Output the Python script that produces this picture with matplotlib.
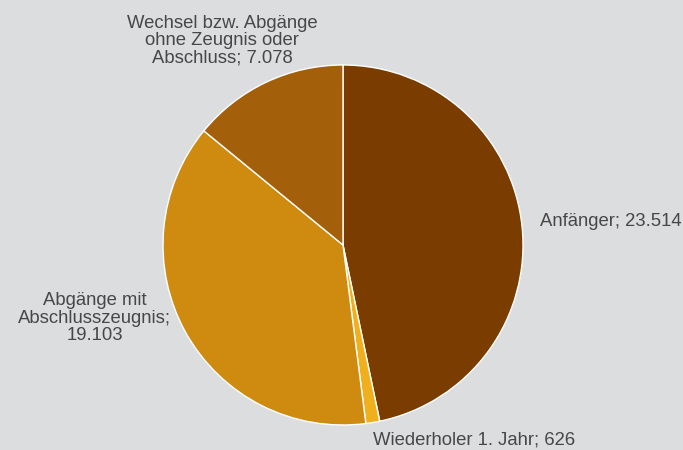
import matplotlib.pyplot as plt

labels = ["Anfänger; 23.514", "Wiederholer 1. Jahr; 626",
          "Abgänge mit\nAbschlusszeugnis;\n19.103",
          "Wechsel bzw. Abgänge\nohne Zeugnis oder\nAbschluss; 7.078"]
values = [23514, 626, 19103, 7078]
colors = ["#7b3c00", "#f0b01e", "#cf8a10", "#a35f0a"]

bg = "#dcdddf"
plt.rcParams['font.family'] = ['Liberation Sans', 'DejaVu Sans']

fig = plt.figure(figsize=(6.83, 4.5), dpi=100, facecolor=bg)
ax = fig.add_axes([0, 0, 1, 1])
ax.set_facecolor(bg)

ax.pie(values, colors=colors, startangle=90, counterclock=False, radius=1,
       wedgeprops=dict(edgecolor="white", linewidth=1))

ax.set_xlim(-343 / 180, 340 / 180)
ax.set_ylim(-205 / 180, 245 / 180)
ax.axis("off")

tc = "#474747"
fs = 13.3
kw = dict(color=tc, fontsize=fs, linespacing=1.03)
ax.text(1.094, 0.128, labels[0], ha="left", va="center", **kw)
ax.text(0.167, -1.085, labels[1], ha="left", va="center", **kw)
ax.text(-1.378, -0.406, labels[2], ha="center", va="center", multialignment="center", **kw)
ax.text(-0.672, 1.135, labels[3], ha="center", va="center", multialignment="center", **kw)

fig.savefig("out.png", dpi=100, facecolor=bg)
